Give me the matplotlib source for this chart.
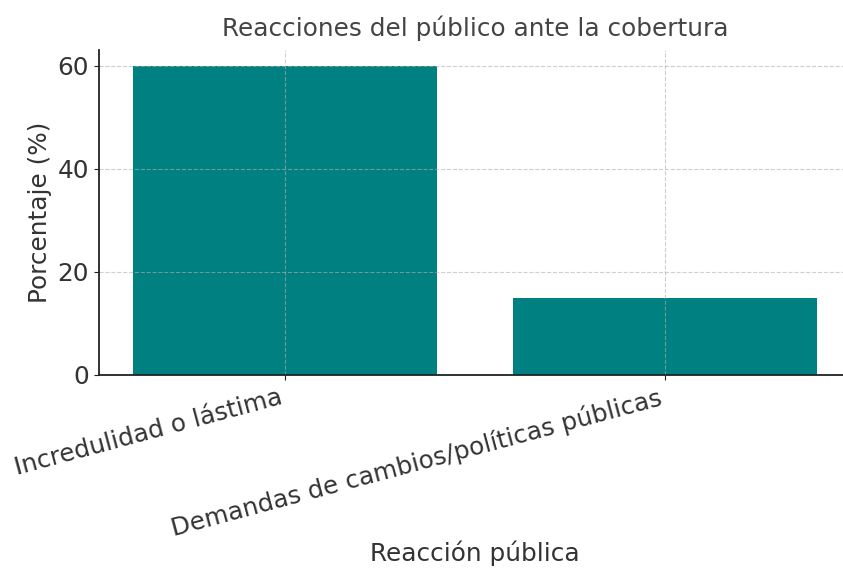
import matplotlib
matplotlib.use("Agg")
import matplotlib.pyplot as plt

categories = ["Incredulidad o lástima", "Demandas de cambios/políticas públicas"]
percentages = [60, 15]

plt.rcParams["font.family"] = ["DejaVu Sans"]
text_color = "#333333"
fs = 17.8

fig = plt.figure(figsize=(8.43, 5.71), dpi=100)
ax = fig.add_axes([0.1174, 0.3433, 0.892, 0.569])

ax.bar(categories, percentages, color="teal", width=0.8)
ax.set_ylim(0, 63)
ax.set_xlim(-0.49, 1.49)
ax.set_yticks([0, 20, 40, 60])

ax.grid(True, linestyle="--", linewidth=0.8, color="#b0b0b0", alpha=0.6)
ax.spines["top"].set_visible(False)
ax.spines["right"].set_visible(False)
for s in ["left", "bottom"]:
    ax.spines[s].set_linewidth(1.3)
    ax.spines[s].set_color("#222222")

ax.tick_params(axis="both", labelsize=fs, colors="#222222", labelcolor=text_color)
plt.setp(ax.get_xticklabels(), rotation=15, ha="right")

ax.set_title("Reacciones del público ante la cobertura", fontsize=fs,
             color="#444444", pad=10)
ax.set_ylabel("Porcentaje (%)", fontsize=fs, color=text_color)
ax.set_xlabel("Reacción pública", fontsize=fs, color=text_color)
ax.xaxis.set_label_coords(0.5, -0.51)

fig.savefig("out.png", dpi=100)
